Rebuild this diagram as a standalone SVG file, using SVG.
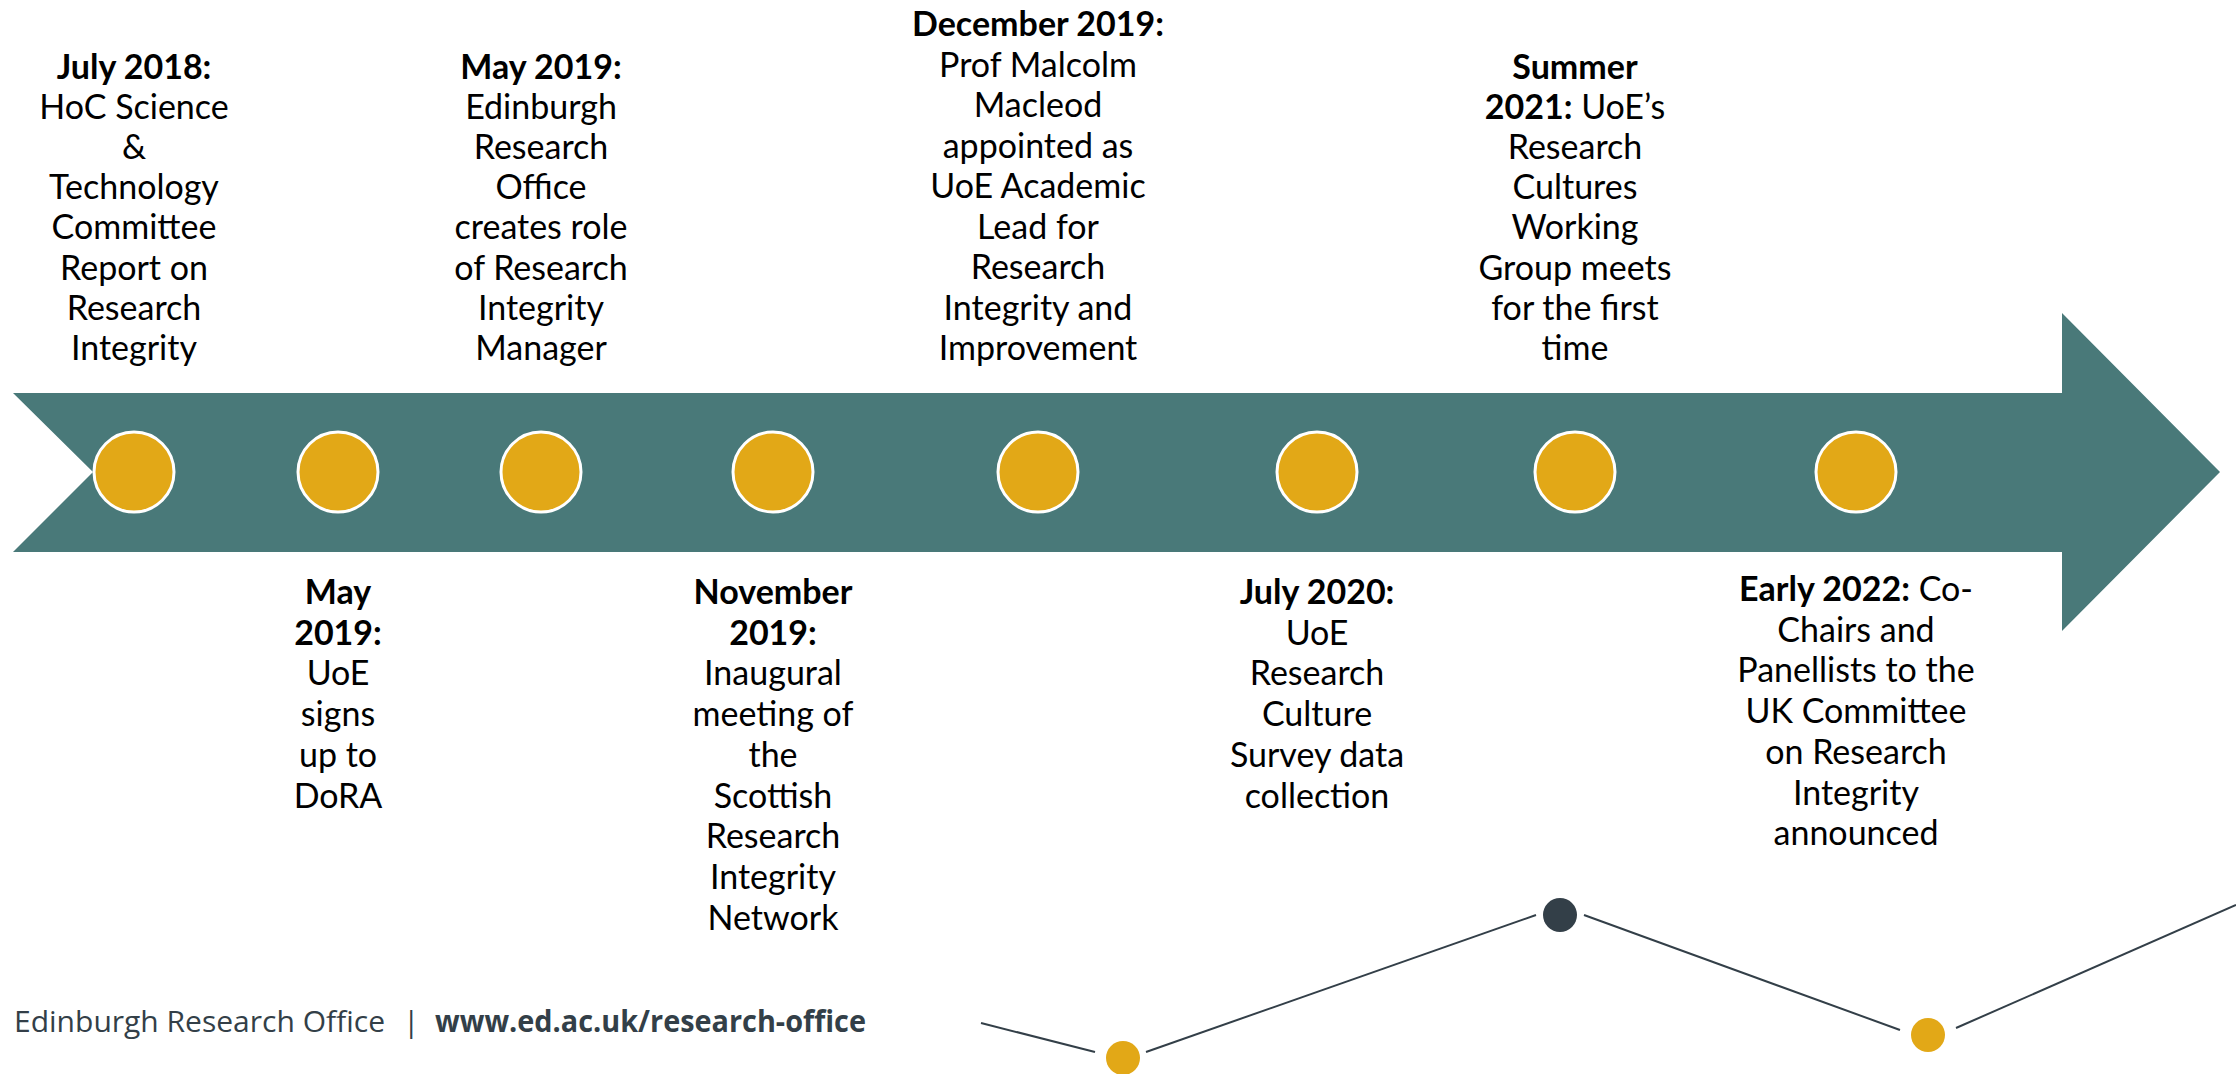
<svg xmlns="http://www.w3.org/2000/svg" width="2236" height="1074" viewBox="0 0 2236 1074">
<style>
.lbl{font-family:Lato,"Liberation Sans",sans-serif;font-size:34px;fill:#000;text-anchor:middle}
.b{font-weight:bold}
.dot{fill:#E2A817;stroke:#fff;stroke-width:3}
.foot{font-family:"Open Sans","Liberation Sans",sans-serif;font-size:30px;fill:#333F48}
.conn{stroke:#333F48;stroke-width:2;fill:none}
</style>
<rect width="2236" height="1074" fill="#fff"/>
<g id="timeline-arrow">
<polygon points="13,393 2062,393 2062,313 2220,472 2062,631 2062,552 13,552 93,472" fill="#497979"/>
</g>
<g id="event-jul2018">
<circle class="dot" cx="134" cy="472" r="40"/>
<text class="lbl"><tspan class="b" x="134" y="79">July 2018:</tspan><tspan x="134" y="119">HoC Science</tspan><tspan x="134" y="159">&amp;</tspan><tspan x="134" y="199">Technology</tspan><tspan x="134" y="239">Committee</tspan><tspan x="134" y="280">Report on</tspan><tspan x="134" y="320">Research</tspan><tspan x="134" y="360">Integrity</tspan></text>
</g>
<g id="event-may2019-dora">
<circle class="dot" cx="338" cy="472" r="40"/>
<text class="lbl"><tspan class="b" x="338" y="604">May</tspan><tspan class="b" x="338" y="645">2019:</tspan><tspan x="338" y="685">UoE</tspan><tspan x="338" y="726">signs</tspan><tspan x="338" y="767">up to</tspan><tspan x="338" y="808">DoRA</tspan></text>
</g>
<g id="event-may2019-office">
<circle class="dot" cx="541" cy="472" r="40"/>
<text class="lbl"><tspan class="b" x="541" y="79">May 2019:</tspan><tspan x="541" y="119">Edinburgh</tspan><tspan x="541" y="159">Research</tspan><tspan x="541" y="199">Office</tspan><tspan x="541" y="239">creates role</tspan><tspan x="541" y="280">of Research</tspan><tspan x="541" y="320">Integrity</tspan><tspan x="541" y="360">Manager</tspan></text>
</g>
<g id="event-nov2019">
<circle class="dot" cx="773" cy="472" r="40"/>
<text class="lbl"><tspan class="b" x="773" y="604">November</tspan><tspan class="b" x="773" y="645">2019:</tspan><tspan x="773" y="685">Inaugural</tspan><tspan x="773" y="726">meeting of</tspan><tspan x="773" y="767">the</tspan><tspan x="773" y="808">Scottish</tspan><tspan x="773" y="848">Research</tspan><tspan x="773" y="889">Integrity</tspan><tspan x="773" y="930">Network</tspan></text>
</g>
<g id="event-dec2019">
<circle class="dot" cx="1038" cy="472" r="40"/>
<text class="lbl"><tspan class="b" x="1038" y="36">December 2019:</tspan><tspan x="1038" y="77">Prof Malcolm</tspan><tspan x="1038" y="117">Macleod</tspan><tspan x="1038" y="158">appointed as</tspan><tspan x="1038" y="198">UoE Academic</tspan><tspan x="1038" y="239">Lead for</tspan><tspan x="1038" y="279">Research</tspan><tspan x="1038" y="320">Integrity and</tspan><tspan x="1038" y="360">Improvement</tspan></text>
</g>
<g id="event-jul2020">
<circle class="dot" cx="1317" cy="472" r="40"/>
<text class="lbl"><tspan class="b" x="1317" y="604">July 2020:</tspan><tspan x="1317" y="645">UoE</tspan><tspan x="1317" y="685">Research</tspan><tspan x="1317" y="726">Culture</tspan><tspan x="1317" y="767">Survey data</tspan><tspan x="1317" y="808">collection</tspan></text>
</g>
<g id="event-summer2021">
<circle class="dot" cx="1575" cy="472" r="40"/>
<text class="lbl"><tspan class="b" x="1575" y="79">Summer</tspan><tspan x="1575" y="119"><tspan class="b">2021:</tspan> UoE’s</tspan><tspan x="1575" y="159">Research</tspan><tspan x="1575" y="199">Cultures</tspan><tspan x="1575" y="239">Working</tspan><tspan x="1575" y="280">Group meets</tspan><tspan x="1575" y="320">for the first</tspan><tspan x="1575" y="360">time</tspan></text>
</g>
<g id="event-early2022">
<circle class="dot" cx="1856" cy="472" r="40"/>
<text class="lbl"><tspan x="1856" y="601"><tspan class="b">Early 2022:</tspan> Co-</tspan><tspan x="1856" y="642">Chairs and</tspan><tspan x="1856" y="682">Panellists to the</tspan><tspan x="1856" y="723">UK Committee</tspan><tspan x="1856" y="764">on Research</tspan><tspan x="1856" y="805">Integrity</tspan><tspan x="1856" y="845">announced</tspan></text>
</g>
<g id="footer">
<text class="foot" x="14" y="1032" textLength="371" lengthAdjust="spacingAndGlyphs">Edinburgh Research Office</text>
<text class="foot" x="403" y="1032">|</text>
<text class="foot" x="435" y="1032" font-weight="bold" textLength="431" lengthAdjust="spacingAndGlyphs">www.ed.ac.uk/research-office</text>
</g>
<g id="deco-dots">
<circle cx="1123" cy="1058" r="17" fill="#E2A817"/>
<circle cx="1560" cy="915" r="17" fill="#333F48"/>
<circle cx="1928" cy="1035" r="17" fill="#E2A817"/>
</g>
<g id="connectors">
<line class="conn" x1="981" y1="1023" x2="1095" y2="1052"/>
<line class="conn" x1="1146" y1="1052" x2="1536" y2="915"/>
<line class="conn" x1="1584" y1="915" x2="1900" y2="1030"/>
<line class="conn" x1="1956" y1="1028" x2="2236" y2="905"/>
</g>
</svg>
